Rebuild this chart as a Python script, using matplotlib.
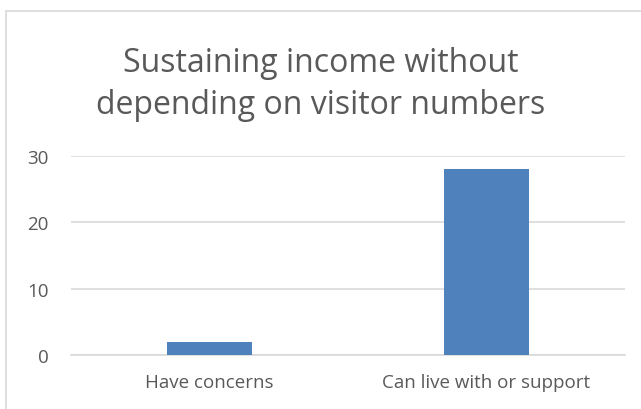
import matplotlib.pyplot as plt
from matplotlib.patches import Rectangle

# data
categories = ['Have concerns', 'Can live with or support']
values = [2, 28]
yticks = [0, 10, 20, 30]

plt.rcParams['font.family'] = ['Open Sans', 'DejaVu Sans']
text_color = '#595959'

fig = plt.figure(figsize=(6.41, 4.10), dpi=100)
# light chart border (Excel chart area)
fig.patches.append(Rectangle((6 / 641, -0.1), 1.2, 1 - 12 / 410 + 0.1,
                             transform=fig.transFigure, fill=False,
                             edgecolor='#D9D9D9', linewidth=1.2))

ax = fig.add_axes([71 / 641, 1 - 356 / 410, 554 / 641, 199 / 410])
ax.bar(range(len(categories)), values, width=0.31, color='#4F81BD', zorder=3)
ax.set_xlim(-0.5, len(categories) - 0.5)
ax.set_ylim(0, 30)
ax.set_yticks(yticks)
ax.yaxis.grid(True, color='#D9D9D9', linewidth=1.2, zorder=0)
for s in ['top', 'right', 'left']:
    ax.spines[s].set_visible(False)
ax.spines['bottom'].set_color('#D9D9D9')
ax.spines['bottom'].set_linewidth(1.2)
ax.set_xticks(range(len(categories)))
ax.set_xticklabels(categories)
ax.tick_params(axis='both', length=0, colors=text_color, labelsize=13.5)
ax.tick_params(axis='x', pad=13)
ax.tick_params(axis='y', pad=16)

fig.text(0.5, 1 - 84 / 410, 'Sustaining income without\ndepending on visitor numbers',
         ha='center', va='center', fontsize=23, color=text_color, linespacing=1.36)

fig.savefig('out.png', dpi=100)
